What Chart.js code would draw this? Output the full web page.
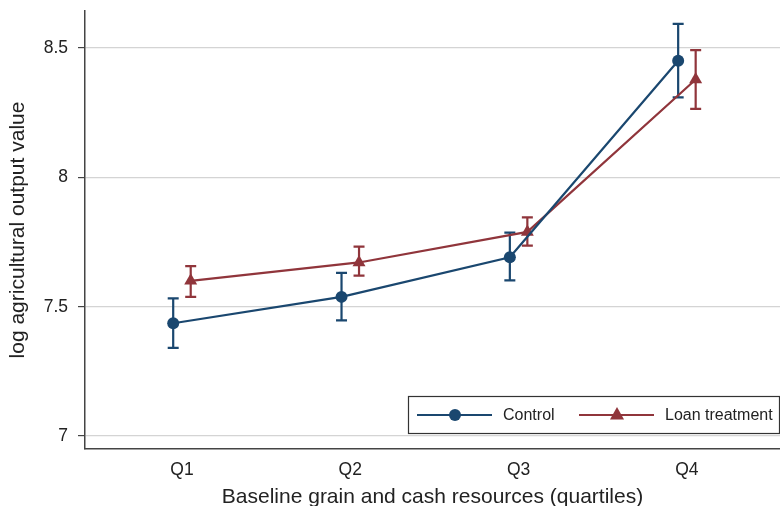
<!DOCTYPE html>
<html>
<head>
<meta charset="utf-8">
<script src="https://cdn.jsdelivr.net/npm/chart.js@4.4.1/dist/chart.umd.min.js"></script>
<style>
  html, body { margin: 0; padding: 0; background: #fff; }
  #wrap { width: 780px; height: 506px; position: relative; }
</style>
</head>
<body>
<div id="wrap"><canvas id="chart"></canvas></div>
<script>
// --- Data ---
const categories = ['Q1', 'Q2', 'Q3', 'Q4'];
const controlMean = [7.436, 7.538, 7.691, 8.451];
const controlLow  = [7.341, 7.447, 7.602, 8.309];
const controlHigh = [7.532, 7.631, 7.786, 8.593];
const loanMean = [7.600, 7.671, 7.789, 8.378];
const loanLow  = [7.538, 7.620, 7.736, 8.265];
const loanHigh = [7.657, 7.732, 7.845, 8.492];
const yTicks = [7, 7.5, 8, 8.5];
const seriesNames = ['Control', 'Loan treatment'];

const NAVY = '#1a476f';
const MAROON = '#90353b';
const FONT = '"Liberation Sans", Arial, Helvetica, sans-serif';
const DODGE = 0.052;

function points(vals, shift) {
  return vals.map((v, i) => ({ x: i + 1 + shift, y: v }));
}

// fixed axis boxes, no extra label padding
function fixBox(s, size) {
  if (s.isHorizontal()) s.height = size; else s.width = size;
  s.paddingTop = s.paddingBottom = s.paddingLeft = s.paddingRight = 0;
}

// error bars, drawn under the markers
const errorBars = {
  id: 'errorBars',
  beforeDatasetsDraw(chart) {
    const { ctx, scales: { x, y } } = chart;
    const sets = [
      { low: controlLow, high: controlHigh, shift: -DODGE, color: NAVY },
      { low: loanLow, high: loanHigh, shift: DODGE, color: MAROON }
    ];
    ctx.save();
    ctx.lineWidth = 2.2;
    sets.forEach(s => {
      ctx.strokeStyle = s.color;
      s.low.forEach((lo, i) => {
        const px = x.getPixelForValue(i + 1 + s.shift);
        const y1 = y.getPixelForValue(lo);
        const y2 = y.getPixelForValue(s.high[i]);
        ctx.beginPath();
        ctx.moveTo(px, y1); ctx.lineTo(px, y2);
        ctx.moveTo(px - 5.5, y1); ctx.lineTo(px + 5.5, y1);
        ctx.moveTo(px - 5.5, y2); ctx.lineTo(px + 5.5, y2);
        ctx.stroke();
      });
    });
    ctx.restore();
  }
};

// boxed legend in the lower right corner
const boxLegend = {
  id: 'boxLegend',
  afterDraw(chart) {
    const ctx = chart.ctx;
    const bx = 408.5, by = 396.5, bw = 371, bh = 37;
    ctx.save();
    ctx.fillStyle = '#fff';
    ctx.fillRect(bx, by, bw, bh);
    ctx.strokeStyle = '#333';
    ctx.lineWidth = 1.2;
    ctx.strokeRect(bx, by, bw, bh);
    const cy = by + bh / 2;
    ctx.font = '16px ' + FONT;
    ctx.textBaseline = 'middle';
    ctx.lineWidth = 2.2;
    // control
    ctx.strokeStyle = NAVY;
    ctx.beginPath(); ctx.moveTo(417, cy); ctx.lineTo(492, cy); ctx.stroke();
    ctx.fillStyle = NAVY;
    ctx.beginPath(); ctx.arc(455, cy, 6, 0, Math.PI * 2); ctx.fill();
    ctx.fillStyle = '#222';
    ctx.fillText(seriesNames[0], 503, cy + 1);
    // loan
    ctx.strokeStyle = MAROON;
    ctx.beginPath(); ctx.moveTo(579, cy); ctx.lineTo(654, cy); ctx.stroke();
    ctx.fillStyle = MAROON;
    ctx.beginPath();
    ctx.moveTo(617, cy - 8); ctx.lineTo(624, cy + 4.5); ctx.lineTo(610, cy + 4.5);
    ctx.closePath(); ctx.fill();
    ctx.fillStyle = '#222';
    ctx.fillText(seriesNames[1], 665, cy + 1);
    ctx.restore();
  }
};

new Chart(document.getElementById('chart'), {
  type: 'line',
  data: {
    datasets: [
      {
        label: seriesNames[0],
        data: points(controlMean, -DODGE),
        borderColor: NAVY,
        backgroundColor: NAVY,
        borderWidth: 2.2,
        pointStyle: 'circle',
        pointRadius: 6,
        pointBorderWidth: 0,
        tension: 0
      },
      {
        label: seriesNames[1],
        data: points(loanMean, DODGE),
        borderColor: MAROON,
        backgroundColor: MAROON,
        borderWidth: 2.2,
        pointStyle: 'triangle',
        pointRadius: 7.5,
        pointBorderWidth: 0,
        tension: 0
      }
    ]
  },
  options: {
    responsive: true,
    maintainAspectRatio: false,
    animation: false,
    layout: { autoPadding: false, padding: { top: 11, right: 0, left: 0, bottom: 0 } },
    plugins: { legend: { display: false }, tooltip: { enabled: false } },
    scales: {
      x: {
        type: 'linear',
        min: 0.424,
        max: 4.553,
        afterBuildTicks: s => { s.ticks = categories.map((c, i) => ({ value: i + 1 })); },
        afterFit: s => fixBox(s, 57),
        ticks: {
          callback: v => categories[v - 1],
          font: { family: FONT, size: 17.5 },
          color: '#222',
          padding: 11,
          maxRotation: 0
        },
        grid: { display: false, drawTicks: false },
        border: { color: '#444', width: 1.5 },
        title: {
          display: true,
          text: 'Baseline grain and cash resources (quartiles)',
          font: { family: FONT, size: 21 },
          color: '#222',
          padding: { top: 0, bottom: -4 }
        }
      },
      y: {
        min: 6.95,
        max: 8.643,
        afterBuildTicks: s => { s.ticks = yTicks.map(v => ({ value: v })); },
        afterFit: s => fixBox(s, 85),
        ticks: {
          callback: v => String(v),
          font: { family: FONT, size: 17.5 },
          color: '#222',
          padding: 10
        },
        grid: { color: '#d4d4d4', lineWidth: 1.2, tickColor: '#444', tickLength: 7, tickWidth: 1.2 },
        border: { color: '#444', width: 1.5 },
        title: {
          display: true,
          text: 'log agricultural output value',
          font: { family: FONT, size: 21 },
          color: '#222',
          padding: { top: 6, bottom: 0 }
        }
      }
    }
  },
  plugins: [errorBars, boxLegend]
});
</script>
</body>
</html>
